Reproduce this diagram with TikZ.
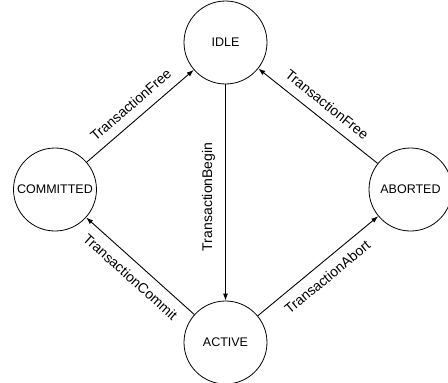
\documentclass[tikz,border=0pt]{standalone}
\usepackage{fontspec}
\setmainfont{Liberation Sans}
\usetikzlibrary{arrows.meta}
\begin{document}
\begin{tikzpicture}[x=1pt,y=-1pt,
  state/.style={draw, circle, line width=0.8pt, minimum size=83pt, inner sep=0pt,
    font=\fontsize{12.5}{15}\selectfont},
  trans/.style={line width=0.9pt, -{Latex[length=7pt,width=5pt]}},
  lbltext/.style={font=\fontsize{14}{16}\selectfont, inner sep=0pt},
  lbl/.style={lbltext, sloped}]
\useasboundingbox (0,0) rectangle (448,383);
\node[state] (idle) at (225.5,42.5) {IDLE};
\node[state] (committed) at (55,189.5) {COMMITTED};
\node[state] (aborted) at (410.5,189.5) {ABORTED};
\node[state] (active) at (225.5,342.5) {ACTIVE};
\draw[trans] (committed) -- node[lbl, above=9pt] {TransactionFree} (idle);
\draw[trans] (aborted) -- node[lbl, above=9pt] {TransactionFree} (idle);
\draw[trans] (idle) -- node[lbltext, pos=0.52, rotate=90, anchor=south, inner ysep=10pt] {TransactionBegin} (active);
\draw[trans] (active) -- node[lbl, below=9pt] {TransactionCommit} (committed);
\draw[trans] (active) -- node[lbl, below=9pt] {TransactionAbort} (aborted);
\end{tikzpicture}
\end{document}
